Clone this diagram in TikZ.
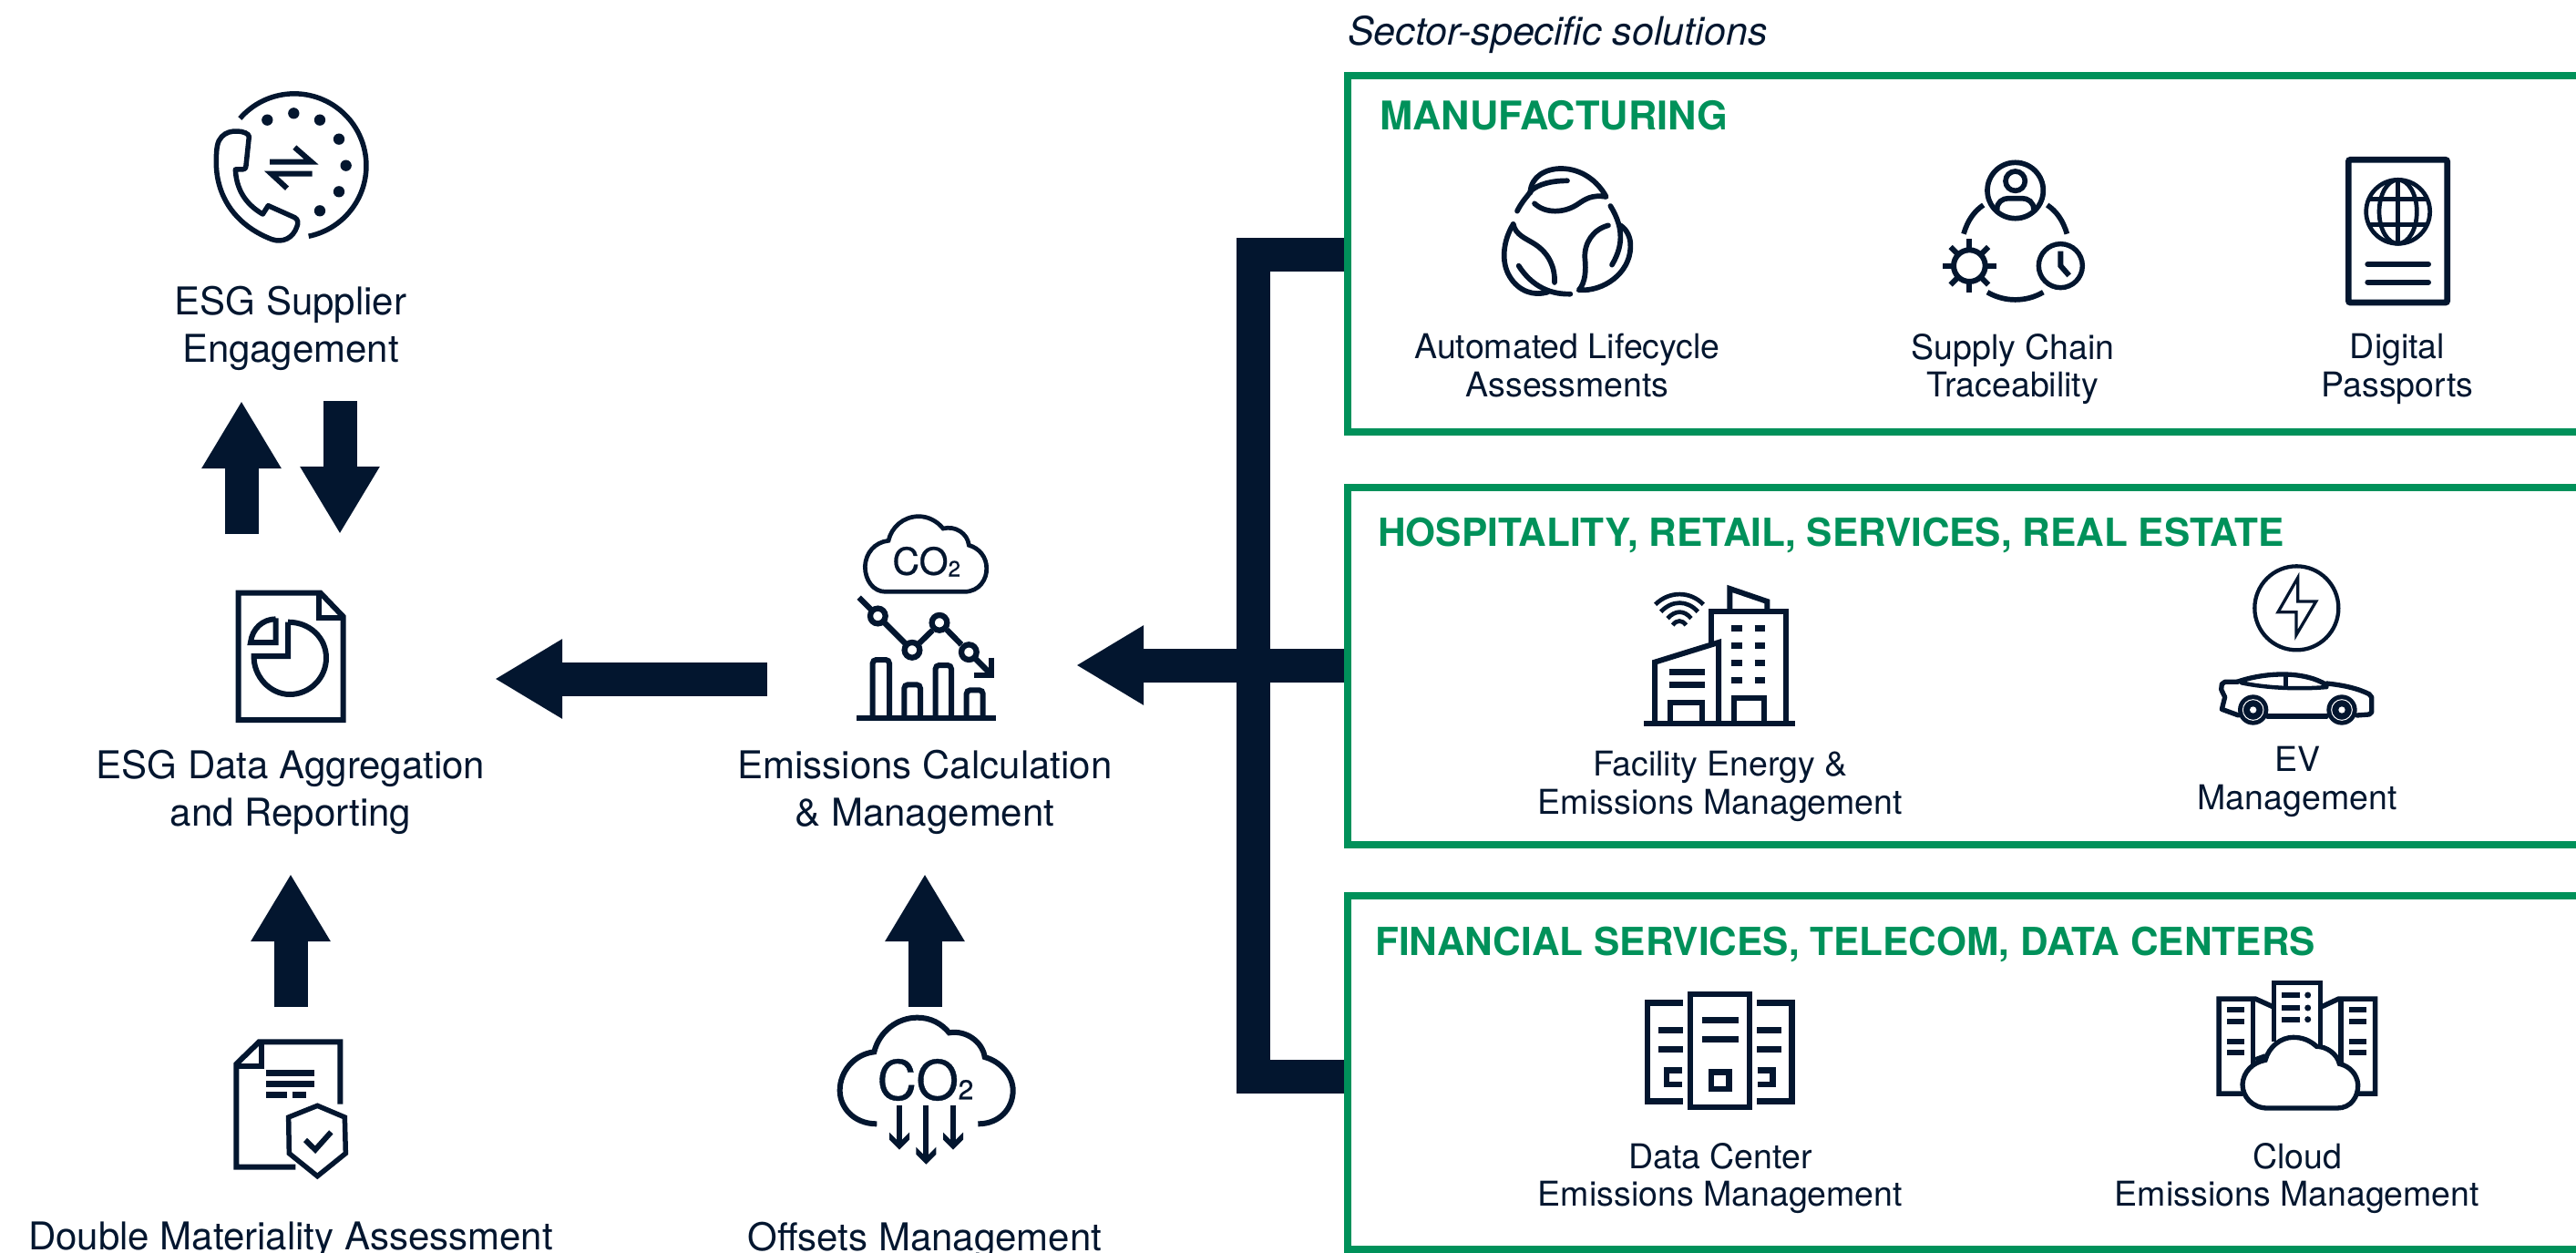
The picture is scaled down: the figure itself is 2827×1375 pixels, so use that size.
\documentclass[tikz,border=0pt]{standalone}
\usepackage{fontspec}
\setmainfont{TeX Gyre Heros}
\newfontfamily\cofont[FakeBold=0.6]{TeX Gyre Heros}
\usetikzlibrary{arrows.meta}
\definecolor{navy}{HTML}{03162F}
\definecolor{brandgreen}{HTML}{00915A}
\newcommand\fx{\vphantom{Ag}}
\tikzset{
  zoomed/.style 2 args={shift={(#1pt,-#2pt)},x=.33333pt,y=-.33333pt},
  ico/.style={draw=navy,line width=#1pt,line join=miter,fill=none},
  ico/.default=6,
  rnd/.style={draw=navy,line width=#1pt,line cap=round,line join=round,fill=none},
  rnd/.default=5.7,
  lbl/.style={text=navy,align=center,font=\fontsize{42}{52}\selectfont,inner sep=0pt},
  sublbl/.style={text=navy,align=center,font=\fontsize{37.5}{41.5}\selectfont,inner sep=0pt},
  head/.style={text=brandgreen,anchor=west,font=\bfseries\fontsize{42.4}{48}\selectfont,inner sep=0pt},
  frameline/.style={draw=brandgreen,line width=8pt,line join=miter},
  block/.style={draw=navy,line width=37pt,-{Triangle[length=74pt,width=82pt]}},
  treeline/.style={draw=navy,line width=37pt,line join=miter},
  cotext/.style={text=navy,inner sep=0pt,font=\cofont\fontsize{#1}{#1}\selectfont},
}
\begin{document}
\begin{tikzpicture}[x=1pt,y=-1pt]
\useasboundingbox (0,0) rectangle (2827,1375);

% frames
\draw[frameline] (2827,83) -- (1479,83) -- (1479,474) -- (2827,474);
\draw[frameline] (2827,535) -- (1479,535) -- (1479,927) -- (2827,927);
\draw[frameline] (2827,983) -- (1479,983) -- (1479,1371) -- (2827,1371);

% connector coordinates
\coordinate (mfgin) at (1475,279);
\coordinate (hospin) at (1475,730);
\coordinate (finin) at (1475,1181);
\coordinate (treetop) at (1375,279);
\coordinate (treebot) at (1375,1181);
\coordinate (calcin) at (1181,730);
\coordinate (calcout) at (842,745);
\coordinate (aggin) at (543,745);
\coordinate (supdownA) at (265,586);
\coordinate (supdownB) at (265,440);
\coordinate (supupA) at (373,440);
\coordinate (supupB) at (373,586);
\coordinate (dblA) at (319,1105);
\coordinate (dblB) at (319,959);
\coordinate (offA) at (1015,1105);
\coordinate (offB) at (1015,959);

\draw[treeline] (mfgin) -- (treetop) -- (treebot) -- (finin);
\draw[block] (hospin) -- (calcin);
\draw[block] (calcout) -- (aggin);
\draw[block] (supdownA) -- (supdownB);
\draw[block] (supupA) -- (supupB);
\draw[block] (dblA) -- (dblB);
\draw[block] (offA) -- (offB);

% labels
\node[lbl] (lsup) at (319,360) {\fx ESG Supplier\\\fx Engagement};
\node[lbl] (lagg) at (319,869) {\fx ESG Data Aggregation\\\fx and Reporting};
\node[lbl] (lcalc) at (1015,869) {\fx Emissions Calculation\\\fx \& Management};
\node[lbl] (ldbl) at (319,1361) {\fx Double Materiality Assessment};
\node[lbl] (loff) at (1015,1361) {\fx Offsets Management};
\node[text=navy,anchor=west,inner sep=0pt,font=\itshape\fontsize{43}{48}\selectfont] (lsector) at (1479,38) {Sector-specific solutions};
\node[head,font=\bfseries\fontsize{43.4}{48}\selectfont] (hmfg) at (1514,127) {MANUFACTURING};
\node[head] (hhosp) at (1512,587) {HOSPITALITY, RETAIL, SERVICES, REAL ESTATE};
\node[head] (hfin) at (1509,1036) {FINANCIAL SERVICES, TELECOM, DATA CENTERS};
\node[sublbl] (lauto) at (1720,405) {\fx Automated Lifecycle\\\fx Assessments};
\node[sublbl] (lsc) at (2209,405) {\fx Supply Chain\\\fx Traceability};
\node[sublbl] (ldp) at (2631,405) {\fx Digital\\\fx Passports};
\node[sublbl] (lfac) at (1888,863) {\fx Facility Energy \&\\\fx Emissions Management};
\node[sublbl] (lev) at (2521,858) {\fx EV\\\fx Management};
\node[sublbl] (ldc) at (1888,1293) {\fx Data Center\\\fx Emissions Management};
\node[sublbl] (lcl) at (2521,1293) {\fx Cloud\\\fx Emissions Management};

% phone icon
\begin{scope}[zoomed={200}{80}]
\draw[ico=5.5] (190,150) arc[start angle=221,end angle=438.5,radius=237];
\foreach \p in {(280,155),(367,133),(453,155),(516,218),(539,305),(516,391),(453,454)}
  \fill[navy] \p circle[radius=18.5];
\draw[ico=6] (288,293) -- (425,293) -- (370,245);
\draw[ico=6] (428,332) -- (293,332) -- (345,380);
\draw[rnd=5.5] (180,192) .. controls (200,192) and (220,200) .. (220,210) -- (210,305) .. controls (209,315) and (205,318) .. (198,318) -- (175,318) .. controls (178,380) and (205,430) .. (265,465) -- (283,437) -- (370,476) .. controls (382,482) and (382,495) .. (378,505) .. controls (365,545) and (330,560) .. (295,548) .. controls (170,500) and (110,400) .. (112,290) .. controls (112,250) and (115,225) .. (130,210) .. controls (145,195) and (160,192) .. (180,192) -- cycle;
\end{scope}

% report icon
\begin{scope}[zoomed={220}{630}]
\draw[ico=6] (125,62) -- (395,62) -- (470,140) -- (470,480) -- (125,480) -- cycle;
\draw[ico=6] (390,62) -- (390,143) -- (470,143);
\draw[ico=6] (248,145) -- (248,225) -- (165,225) .. controls (170,180) and (205,148) .. (248,148);
\draw[ico=6] (288,158) -- (288,270) -- (176,270) .. controls (174,335) and (228,396) .. (294,396) .. controls (360,396) and (414,342) .. (414,276) .. controls (414,210) and (360,158) .. (288,158);
\end{scope}

% emissions icon
\begin{scope}[zoomed={900}{550}]
\draw[ico=4.7] (215,298) -- (475,298) .. controls (525,298) and (550,255) .. (548,220) .. controls (548,185) and (525,155) .. (490,145) .. controls (485,105) and (445,80) .. (405,90) .. controls (385,65) and (355,50) .. (325,50) .. controls (275,50) and (235,85) .. (225,130) .. controls (180,135) and (150,170) .. (148,215) .. controls (148,260) and (175,298) .. (215,298) -- cycle;
\node[cotext=41] (co1) at (330,197) {CO};
\node[cotext=24] (co1s) at (442,222) {2};
\draw[ico=6.3] (128,317) -- (168,357) (212,400) -- (280,468) (327,467) -- (370,425) (417,423) -- (465,472) (513,520) -- (565,572);
\draw[ico=6] (565,515) -- (565,572) -- (507,572);
\foreach \p in {(190,378),(303,490),(393,400),(490,497)}
  \draw[ico=6.3] \p circle[radius=25];
\foreach \a/\b/\t in {173/228/522,277/330/604,380/432/540,482/536/622}
  \draw[ico=6,rounded corners=4pt] (\a,714) -- (\a,\t) -- (\b,\t) -- (\b,714);
\draw[ico=6] (120,714) -- (578,714);
\end{scope}

% materiality icon
\begin{scope}[zoomed={220}{1120}]
\draw[ico=6] (460,275) -- (460,70) -- (193,70) -- (118,143) -- (118,482) -- (313,482);
\draw[ico=6] (200,75) -- (200,150) -- (118,150);
\draw[ico=6.7] (216,172) -- (375,172) (216,208) -- (375,208) (216,245) -- (285,245) (303,245) -- (348,245);
\draw[ico=5.5] (385,280) -- (475,318) -- (478,437) -- (385,512) -- (292,437) -- (290,318) -- cycle;
\draw[ico=6] (345,393) -- (378,425) -- (430,367);
\end{scope}

% offsets icon
\begin{scope}[zoomed={900}{1100}]
\draw[ico=6] (187,400) .. controls (110,400) and (65,345) .. (65,290) .. controls (65,225) and (115,170) .. (178,163) .. controls (195,95) and (255,50) .. (320,50) .. controls (365,50) and (400,70) .. (425,100) .. controls (480,90) and (535,130) .. (542,180) .. controls (595,195) and (635,240) .. (635,290) .. controls (635,350) and (590,400) .. (520,400);
\node[cotext=60] (co2) at (322,255) {CO};
\node[cotext=30] (co2s) at (480,287) {2};
\foreach \x/\ya/\yb in {261/338/465,349/340/513,438/338/465}{
  \draw[ico=6] (\x,\ya) -- (\x,\yb);
  \fill[navy] (\x-33,\yb-37) -- (\x-9,\yb-13) -- (\x+9,\yb-13) -- (\x+33,\yb-37) -- (\x+33,\yb-13) -- (\x,\yb+20) -- (\x-33,\yb-13) -- cycle;
}
\end{scope}

% leaves icon
\begin{scope}[zoomed={1620}{160}]
\draw[rnd=5.7] (135,215) .. controls (150,185) and (165,170) .. (180,150);
\draw[rnd=5.7] (178,155) .. controls (180,100) and (230,75) .. (280,75) .. controls (345,75) and (400,115) .. (428,168) .. controls (380,160) and (360,175) .. (330,195) .. controls (290,220) and (230,225) .. (192,190);
\draw[rnd=5.7] (178,150) .. controls (205,125) and (250,115) .. (300,115);
\draw[rnd=5.7] (442,198) .. controls (480,260) and (490,320) .. (447,392);
\draw[rnd=5.7] (435,262) .. controls (385,275) and (355,320) .. (358,370) .. controls (362,410) and (360,450) .. (338,475) .. controls (420,480) and (505,420) .. (508,335) .. controls (510,300) and (495,275) .. (475,262);
\draw[rnd=5.7] (122,258) .. controls (90,310) and (80,380) .. (110,430) .. controls (140,480) and (190,495) .. (235,482);
\draw[rnd=5.7] (122,258) .. controls (130,295) and (165,305) .. (195,325) .. controls (240,355) and (260,400) .. (258,450);
\draw[rnd=5.7] (140,395) .. controls (175,450) and (230,490) .. (310,488);
\end{scope}

% supply chain icon
\begin{scope}[zoomed={2100}{160}]
\draw[ico=5.7] (335,147) circle[radius=92];
\draw[ico=5.7] (335,116) circle[radius=32];
\draw[ico=5.7] (275,212) .. controls (272,185) and (295,173) .. (312,173) -- (358,173) .. controls (375,173) and (398,185) .. (395,212);
\draw[ico=5.7] (165,290) .. controls (178,245) and (200,215) .. (230,195);
\draw[ico=5.7] (440,195) .. controls (470,215) and (492,245) .. (505,290);
\draw[ico=5.7] (243,482) .. controls (300,515) and (370,515) .. (427,482);
\draw[ico=6] (184,395) circle[radius=52];
\foreach \a in {0,45,...,315}
  \draw[ico=6] (184,395) ++(\a:52) -- ++(\a:36);
\draw[ico=5.4] (484,395) circle[radius=72];
\draw[ico=6] (484,347) -- (484,395) -- (512,427);
\end{scope}

% passport icon
\begin{scope}[zoomed={2540}{150}]
\draw[ico=6.7,rounded corners=2pt] (112,76) rectangle (437,546);
\draw[ico=4.7] (275,247) circle[radius=105];
\draw[ico=4.7] (275,247) ellipse[x radius=62,y radius=105];
\draw[ico=4.7] (275,142) -- (275,352) (179,205) -- (371,205) (179,290) -- (371,290);
\draw[rnd=6] (175,420) -- (375,420) (175,479) -- (375,479);
\end{scope}

% building icon
\begin{scope}[zoomed={1780}{630}]
\draw[ico=6] (295,225) -- (295,122) -- (540,122) -- (540,492);
\draw[ico=6] (355,122) -- (355,48) -- (478,90) -- (478,122);
\draw[ico=6] (108,492) -- (108,290) -- (318,225) -- (318,492);
\draw[ico=6] (160,492) -- (160,422) -- (265,422) -- (265,492);
\draw[ico=6] (368,492) -- (368,408) -- (468,408) -- (468,492);
\draw[ico=6] (73,492) -- (571,492);
\draw[ico=6.7] (155,322) -- (273,322) (155,364) -- (273,364);
\foreach \y in {178,235,292,349}
  \draw[ico=6.7] (360,\y) -- (396,\y) (437,\y) -- (471,\y);
\draw[ico=4.7] (110,100) .. controls (155,55) and (225,55) .. (268,100);
\draw[ico=4.7] (128,124) .. controls (165,85) and (215,85) .. (250,124);
\draw[ico=4.7] (150,146) .. controls (175,118) and (205,118) .. (228,146);
\draw[ico=4.7] (167,168) .. controls (180,150) and (198,150) .. (211,168);
\end{scope}

% EV icon
\begin{scope}[zoomed={2400}{610}]
\draw[ico=4.3] (361,172) circle[radius=138];
\draw[ico=3.3] (365,72) -- (365,150) -- (425,150) -- (360,260) -- (360,185) -- (300,185) -- cycle;
\draw[rnd=5.3] (165,415) -- (125,415) -- (115,422) -- (113,440) -- (125,465) -- (115,505) -- (170,525);
\draw[rnd=5.3] (265,528) -- (460,528);
\draw[rnd=5.3] (560,525) -- (600,522) -- (608,515) -- (608,465) -- (600,455) .. controls (560,435) and (510,425) .. (460,420);
\draw[rnd=5.3] (165,415) .. controls (250,385) and (380,375) .. (460,425);
\draw[rnd=4.5] (180,418) .. controls (260,435) and (370,440) .. (460,432);
\draw[ico=5] (325,395) -- (325,430);
\foreach \c in {218,510}{
  \fill[navy] (\c,507) circle[radius=50];
  \draw[white,line width=1pt] (\c,507) circle[radius=34];
  \fill[white] (\c,507) circle[radius=11];
}
\end{scope}

% data center icon
\begin{scope}[zoomed={1780}{1070}]
\draw[ico=6.7] (225,63) rectangle (420,435);
\draw[ico=7] (264,148) -- (384,148) (264,211) -- (384,211);
\draw[ico=6.7] (294,320) rectangle (353,375);
\draw[ico=6.7] (200,92) -- (84,92) -- (84,415) -- (200,415);
\draw[ico=7] (120,181) -- (201,181) (120,244) -- (201,244);
\draw[ico=6.7] (198,313) -- (147,313) -- (147,360) -- (198,360);
\draw[ico=6.7] (444,92) -- (560,92) -- (560,415) -- (444,415);
\draw[ico=7] (444,181) -- (525,181) (444,244) -- (525,244);
\draw[ico=6.7] (446,313) -- (497,313) -- (497,360) -- (446,360);
\end{scope}

% cloud rack icon
\begin{scope}[zoomed={2410}{1060}]
\draw[ico=5.5] (257,250) -- (257,56) -- (410,56) -- (410,270);
\draw[ico=5.5] (155,420) -- (75,420) -- (75,108) -- (195,108) -- (255,135);
\draw[ico=5.5] (530,420) -- (590,420) -- (590,108) -- (470,108) -- (412,135);
\draw[ico=5.5] (187,108) -- (187,325) (477,108) -- (477,325);
\draw[ico=5] (195,308) -- (228,296);
\foreach \y in {144,182,248,284}
  \draw[ico=6] (102,\y) -- (158,\y) (504,\y) -- (561,\y);
\foreach \y in {96,138,176}{
  \draw[ico=6] (282,\y) -- (342,\y);
  \fill[navy] (368,\y) circle[radius=10.5];
}
\draw[ico=5.3,fill=white] (235,468) -- (465,468) .. controls (510,468) and (535,430) .. (533,390) .. controls (530,355) and (505,330) .. (472,322) .. controls (465,290) and (430,265) .. (397,265) .. controls (375,245) and (350,235) .. (320,235) .. controls (280,235) and (240,265) .. (228,310) .. controls (185,318) and (155,350) .. (153,390) .. controls (153,430) and (185,468) .. (235,468) -- cycle;
\end{scope}
\end{tikzpicture}
\end{document}
